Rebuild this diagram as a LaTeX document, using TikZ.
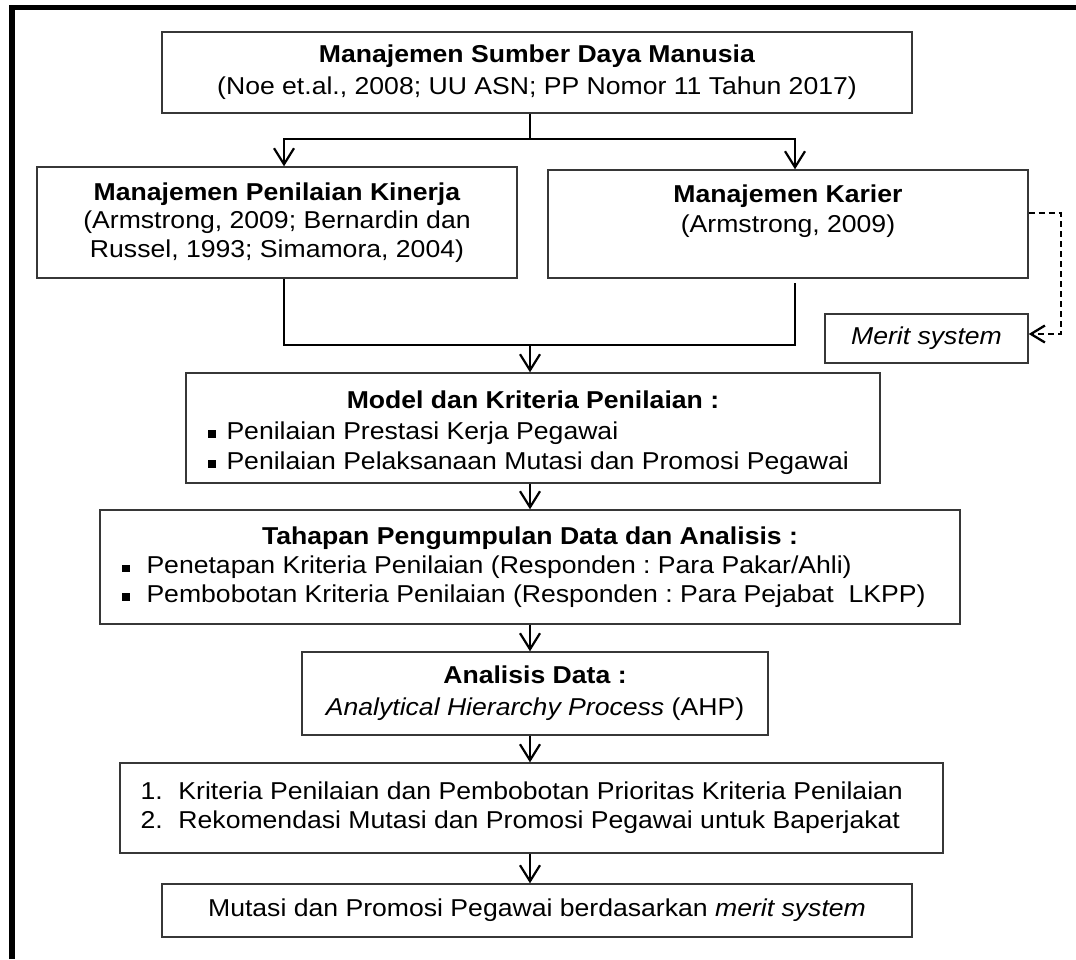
\documentclass[tikz,border=0pt]{standalone}
\usepackage{fontspec}
\setmainfont[FakeStretch=1.09]{Liberation Sans}
\usepackage{xcolor}
\definecolor{boxline}{RGB}{55,55,55}
\usetikzlibrary{arrows.meta}
\newcommand{\bul}{\rule[1.5pt]{7.5pt}{7.5pt}}

\begin{document}
\begin{tikzpicture}[x=1pt,y=-1pt,
  box/.style 2 args={draw=boxline,line width=1.4pt,align=center,inner sep=2pt,
    minimum width=#1pt,minimum height=#2pt,font=\fontsize{24.4}{28.5}\selectfont\frenchspacing},
  link/.style={line width=2.2pt,line join=miter},
  arrow/.style={link,-{Straight Barb[length=16pt,width=20pt]}},
  dasharrow/.style={line width=2.3pt,dash pattern=on 6pt off 4pt,
    -{Straight Barb[length=14pt,width=17pt]}}]
  \useasboundingbox (0,0) rectangle (1076,959);
  \draw[line width=5.5pt] (12,959) -- (12,7.5) -- (1076,7.5);
  \node[box={750}{81}] (top) at (537,72.5) {\textbf{Manajemen Sumber Daya Manusia}\\[3.5pt]
    (Noe et.al., 2008; UU ASN; PP Nomor 11 Tahun 2017)};
  \node[box={480}{111}] (kinerja) at (277,222.5) {\textbf{Manajemen Penilaian Kinerja}\\
    (Armstrong, 2009; Bernardin dan\\Russel, 1993; Simamora, 2004)};
  \node[box={480}{108}] (karier) at (788,224) {\textbf{Manajemen Karier}\\[1.5pt]
    (Armstrong, 2009)\\[1.5pt]\mbox{}};
  \node[box={203}{49}] (merit) at (926.5,338.5) {\textit{Merit system}};
  \node[box={694}{110}] (model) at (533,428) {\rule{0pt}{27pt}\textbf{Model dan Kriteria Penilaian :}\\[2.5pt]
    \makebox[650pt][l]{\bul\hspace{11pt}Penilaian Prestasi Kerja Pegawai}\\[1.5pt]
    \makebox[650pt][l]{\bul\hspace{11pt}Penilaian Pelaksanaan Mutasi dan Promosi Pegawai}};
  \node[box={860}{114}] (tahapan) at (530,567) {\textbf{Tahapan Pengumpulan Data dan Analisis :}\\[0.5pt]
    \makebox[816pt][l]{\bul\hspace{17pt}Penetapan Kriteria Penilaian (Responden : Para Pakar/Ahli)}\\
    \makebox[816pt][l]{\bul\hspace{17pt}Pembobotan Kriteria Penilaian (Responden : Para Pejabat\ \ LKPP)}};
  \node[box={466}{83}] (analisis) at (535,693.5) {\textbf{Analisis Data :}\\[3.5pt]
    \textit{Analytical Hierarchy Process} (AHP)};
  \node[box={823}{90}] (hasil) at (531.5,808) {%
    \makebox[782pt][l]{\makebox[38pt][l]{1.}Kriteria Penilaian dan Pembobotan Prioritas Kriteria Penilaian}\\[0.5pt]
    \makebox[782pt][l]{\makebox[38pt][l]{2.}Rekomendasi Mutasi dan Promosi Pegawai untuk Baperjakat}};
  \node[box={750}{53}] (akhir) at (537,910.5) {Mutasi dan Promosi Pegawai berdasarkan \textit{merit system}};
  \coordinate (lcol) at (284,0);
  \coordinate (mcol) at (530,0);
  \coordinate (rcol) at (795,0);
  \coordinate (split) at (530,139);
  \coordinate (merge) at (530,345);
  \draw[link] (top.south -| mcol) -- (split);
  \draw[arrow] (split) -- (split -| lcol) -- (kinerja.north -| lcol);
  \draw[arrow] (split) -- (split -| rcol) -- (karier.north -| rcol);
  \draw[link] (kinerja.south -| lcol) -- (merge -| lcol) -- (merge -| rcol) -- ([yshift=-4pt]karier.south -| rcol);
  \draw[arrow] (merge) -- (model.north -| mcol);
  \foreach \a/\b in {model/tahapan,tahapan/analisis,analisis/hasil,hasil/akhir}
    \draw[arrow] (\a.south -| mcol) -- (\b.north -| mcol);
  \draw[dasharrow] ([yshift=11pt]karier.east) -- ++(32,0) |- ([yshift=4.5pt]merit.east);
\end{tikzpicture}
\end{document}
